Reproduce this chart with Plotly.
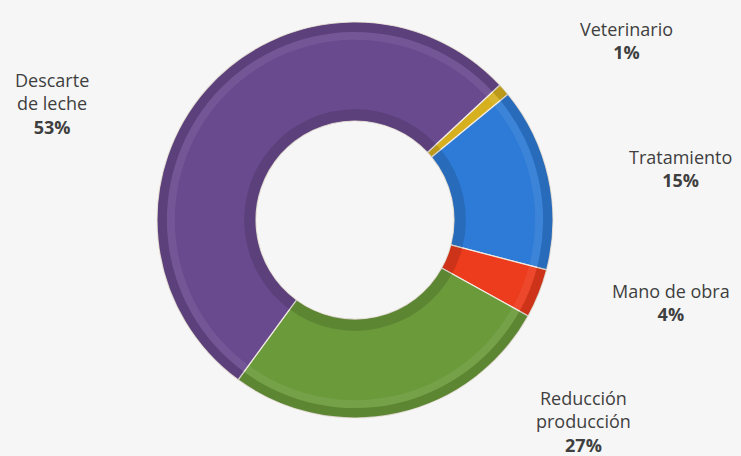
import plotly.graph_objects as go

# Cost breakdown (share of total, %)
categories = ["Veterinario", "Tratamiento", "Mano de obra", "Reducción producción", "Descarte de leche"]
label_lines = ["Veterinario", "Tratamiento", "Mano de obra", "Reducción<br>producción", "Descarte<br>de leche"]
values = [1, 15, 4, 27, 53]
colors = ["#d6b01f", "#2d7bd6", "#ec3b1d", "#6b9a3b", "#6a4a8e"]

# label anchor positions in paper coordinates (x, y of the text block centre)
label_pos = [(0.846, 0.912), (0.918, 0.631), (0.906, 0.336), (0.787, 0.075), (0.070, 0.774)]

W, H = 741, 456
cx, cy, R = 355, 220, 198
hole = 0.5


def dom(r):
    return dict(x=[(cx - r) / W, (cx + r) / W], y=[1 - (cy + r) / H, 1 - (cy - r) / H])


fig = go.Figure()

# main ring
fig.add_trace(go.Pie(
    labels=categories, values=values, hole=hole, sort=False, direction="clockwise",
    rotation=47, textinfo="none", hoverinfo="label+percent",
    marker=dict(colors=colors, line=dict(color="#f2ece4", width=1.2)),
    domain=dom(R), showlegend=False,
))

# dark rim along the outer edge
fig.add_trace(go.Pie(
    labels=categories, values=values, hole=0.95, sort=False, direction="clockwise",
    rotation=47, textinfo="none", hoverinfo="skip",
    marker=dict(colors=["rgba(0,0,0,0.13)"] * len(values), line=dict(width=0)),
    domain=dom(R), showlegend=False,
))

# lighter bevel band inside the rim
fig.add_trace(go.Pie(
    labels=categories, values=values, hole=0.91 / 0.95, sort=False, direction="clockwise",
    rotation=47, textinfo="none", hoverinfo="skip",
    marker=dict(colors=["rgba(255,255,255,0.07)"] * len(values), line=dict(width=0)),
    domain=dom(R * 0.95), showlegend=False,
))

# shadow band along the inner edge
r_in = R * 0.56
fig.add_trace(go.Pie(
    labels=categories, values=values, hole=hole / 0.56, sort=False, direction="clockwise",
    rotation=47, textinfo="none", hoverinfo="skip",
    marker=dict(colors=["rgba(0,0,0,0.13)"] * len(values), line=dict(width=0)),
    domain=dom(r_in), showlegend=False,
))

for name, v, (x, y) in zip(label_lines, values, label_pos):
    fig.add_annotation(
        x=x, y=y, xref="paper", yref="paper", xanchor="center", yanchor="middle",
        text=f"{name}<br><b>{v}%</b>", showarrow=False, align="center",
        font=dict(family="Open Sans, Noto Sans, sans-serif", size=18, color="#3f3f3f"),
    )

fig.update_layout(
    width=W, height=H, margin=dict(l=0, r=0, t=0, b=0),
    paper_bgcolor="#f6f6f6", plot_bgcolor="#f6f6f6",
)

fig.write_html("out.html")
